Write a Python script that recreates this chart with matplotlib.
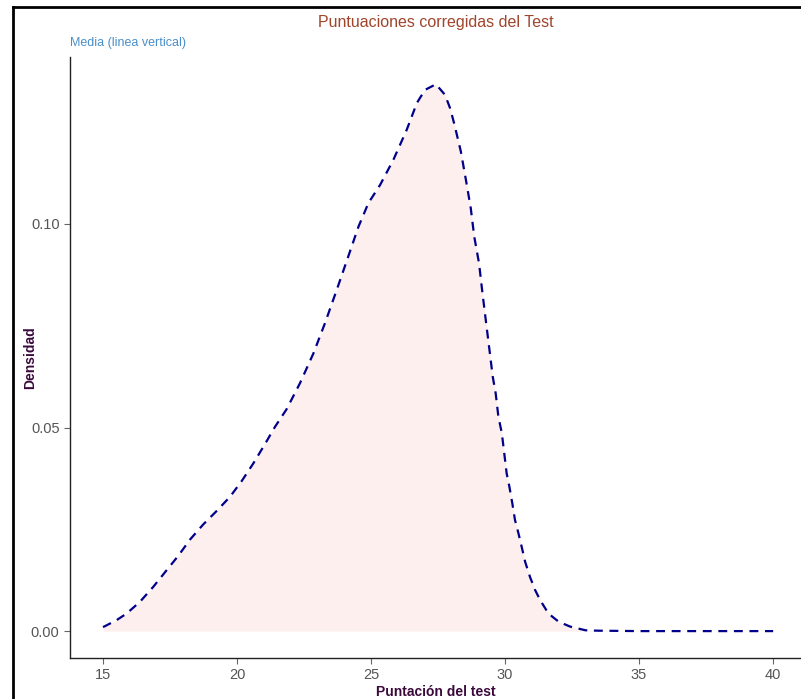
import numpy as np
import matplotlib
matplotlib.use("Agg")
import matplotlib.pyplot as plt
from matplotlib.lines import Line2D

# Density curve
puntuacion = [15.0, 15.07, 15.51, 15.88, 16.38, 16.88, 17.38, 17.81, 18.25, 18.74,
              19.24, 19.74, 20.18, 20.61, 21.04, 21.42, 21.85, 22.35, 22.85, 23.28,
              23.72, 24.15, 24.53, 24.90, 25.34, 25.83, 26.33, 26.71, 27.01, 27.42,
              27.76, 27.95, 28.10, 28.22, 28.35, 28.54, 28.72, 28.85, 29.03, 29.15,
              29.28, 29.41, 29.54, 29.65, 29.75, 29.88, 30.06, 30.16, 30.27, 30.37,
              30.50, 30.62, 30.75, 30.93, 31.12, 31.31, 31.62, 32.0, 32.43, 33.0,
              33.47, 35.0, 37.5, 40.0]
densidad = [0.0010, 0.0012, 0.0027, 0.0043, 0.0072, 0.0109, 0.0150, 0.0185, 0.0225, 0.0262,
            0.0295, 0.0330, 0.0369, 0.0412, 0.0459, 0.0502, 0.0545, 0.0609, 0.0682, 0.0756,
            0.0838, 0.0920, 0.0993, 0.1051, 0.1096, 0.1157, 0.1231, 0.1297, 0.1329, 0.1343,
            0.1317, 0.1284, 0.1247, 0.1214, 0.1178, 0.1108, 0.1039, 0.0969, 0.0903, 0.0834,
            0.0764, 0.0695, 0.0625, 0.0584, 0.0527, 0.0486, 0.0387, 0.0355, 0.0314, 0.0273,
            0.0240, 0.0207, 0.0170, 0.0133, 0.0101, 0.0076, 0.0043, 0.0023, 0.0011, 0.0002,
            0.0001, 0.0, 0.0, 0.0]
x_ticks = [15, 20, 25, 30, 35, 40]
y_ticks = [0.00, 0.05, 0.10]

plt.rcParams['font.family'] = ['Liberation Sans', 'DejaVu Sans']

fig = plt.figure(figsize=(8.01, 6.99), dpi=100)
ax = fig.add_axes([0.0874, 0.0587, 0.9126, 0.8598])

x = np.array(puntuacion)
y = np.array(densidad)
ax.fill_between(x, 0, y, color='#FCEFED', lw=0)
ax.plot(x, y, color='#00008B', lw=1.6, linestyle=(0, (4, 3)))

ax.set_xlim(13.77, 41.04)
ax.set_ylim(-0.0066, 0.141)
ax.set_xticks(x_ticks)
ax.set_yticks(y_ticks)
ax.set_yticklabels([f'{v:.2f}' for v in y_ticks])
ax.tick_params(colors='#666666', labelcolor='#555555', labelsize=10.5, length=4, width=0.8)
for s in ['top', 'right']:
    ax.spines[s].set_visible(False)
for s in ['left', 'bottom']:
    ax.spines[s].set_color('#222222')
    ax.spines[s].set_linewidth(1.0)

ax.set_xlabel('Puntación del test', fontsize=10, fontweight='bold', color='#3B0A3B', labelpad=2)
ax.set_ylabel('Densidad', fontsize=10, fontweight='bold', color='#3B0A3B')
ax.yaxis.set_label_coords(-0.045, 0.5)

fig.text(0.5437, 1 - 22 / 699, 'Puntuaciones corregidas del Test', ha='center', va='center',
         fontsize=11.5, color='#A0442C')
fig.text(70 / 801, 1 - 43 / 699, 'Media (linea vertical)', ha='left', va='center',
         fontsize=9, color='#4A8FC9')

# screenshot frame (left and top edges)
fig.add_artist(Line2D([13 / 801, 13 / 801], [0, 1 - 7 / 699], transform=fig.transFigure,
                      color='black', lw=2))
fig.add_artist(Line2D([13 / 801, 1], [1 - 7 / 699, 1 - 7 / 699], transform=fig.transFigure,
                      color='black', lw=2))

fig.savefig('out.png', dpi=100)
